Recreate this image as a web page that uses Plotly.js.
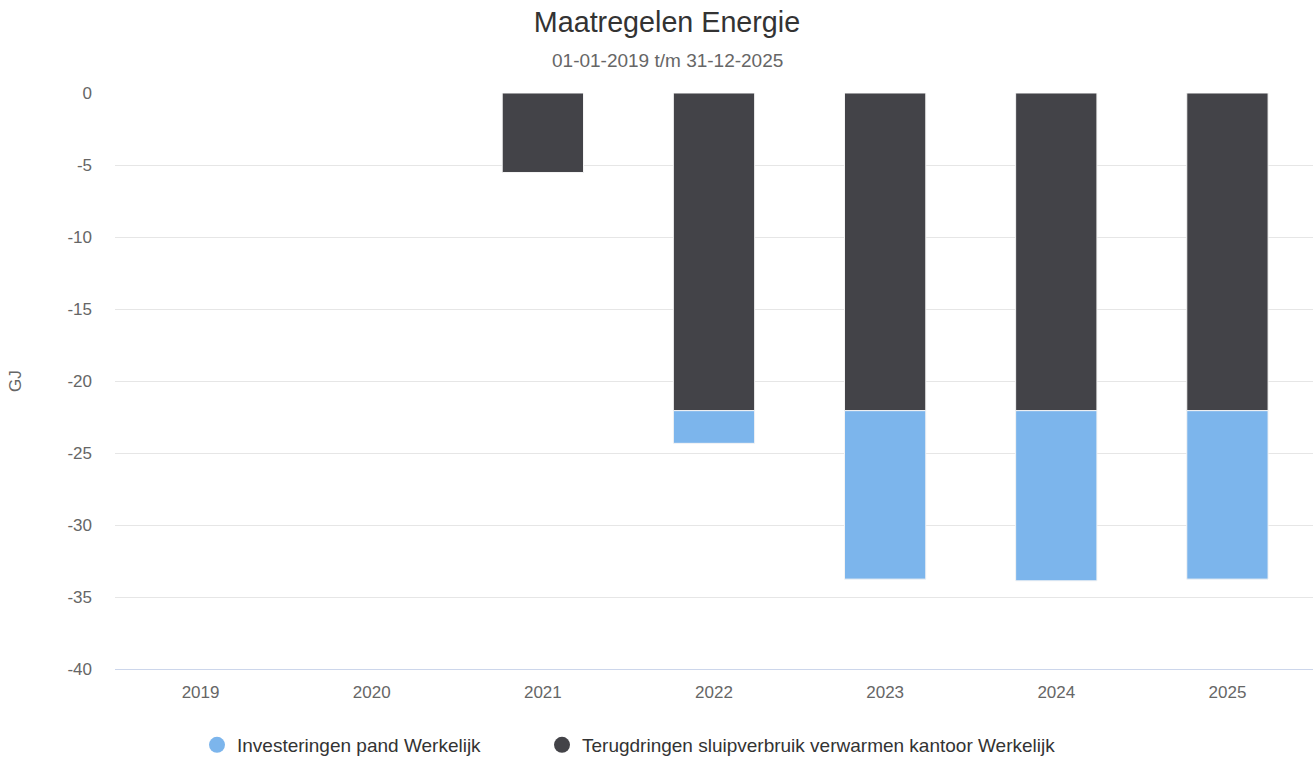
<!DOCTYPE html>
<html>
<head>
<meta charset="utf-8">
<script src="https://cdn.plot.ly/plotly-3.0.1.min.js"></script>
<style>html,body{margin:0;padding:0;background:#fff;}#chart{width:1313px;height:758px;}</style>
</head>
<body>
<div id="chart"></div>
<script>
const years = ['2019', '2020', '2021', '2022', '2023', '2024', '2025'];
const investeringenPand = [null, null, null, -2.27, -11.7, -11.82, -11.7];
const sluipverbruik = [null, null, -5.52, -22.06, -22.06, -22.06, -22.06];
const seriesNames = ['Investeringen pand Werkelijk', 'Terugdringen sluipverbruik verwarmen kantoor Werkelijk'];
const colors = ['#7cb5ec', '#434348'];
const yTicks = [0, -5, -10, -15, -20, -25, -30, -35, -40];
const yTickText = ['0', '-5', '-10', '-15', '-20', '-25', '-30', '-35', '-40'];

const font = 'Liberation Sans, Arial, sans-serif';

const traces = [
  {type: 'bar', x: years, y: sluipverbruik, name: seriesNames[1], showlegend: false,
   marker: {color: colors[1], line: {color: '#f4f4f4', width: 1}}, hoverinfo: 'x+y'},
  {type: 'bar', x: years, y: investeringenPand, name: seriesNames[0], showlegend: false,
   marker: {color: colors[0], line: {color: '#f4f4f4', width: 1}}, hoverinfo: 'x+y'},
  {type: 'scatter', mode: 'markers', x: [null], y: [null], name: seriesNames[0], legend: 'legend',
   marker: {color: colors[0], size: 18, symbol: 'circle'}},
  {type: 'scatter', mode: 'markers', x: [null], y: [null], name: seriesNames[1], legend: 'legend2',
   marker: {color: colors[1], size: 18, symbol: 'circle'}}
];

const legendStyle = {orientation: 'h', xanchor: 'left', yref: 'container', y: 1 - 745/758, yanchor: 'middle',
  font: {family: font, size: 19, color: '#333333'}, bgcolor: 'rgba(0,0,0,0)', borderwidth: 0};

const layout = {
  width: 1313, height: 758,
  margin: {l: 115, r: 0, t: 93, b: 89, autoexpand: false},
  paper_bgcolor: '#ffffff', plot_bgcolor: '#ffffff',
  font: {family: font, color: '#666666', size: 17},
  barmode: 'relative',
  bargap: 0.525,
  title: {text: 'Maatregelen Energie', font: {family: font, size: 28.7, color: '#333333'},
          x: 667/1313, xref: 'container', xanchor: 'center', y: 1 - 22/758, yref: 'container', yanchor: 'middle'},
  annotations: [
    {text: '01-01-2019 t/m 31-12-2025', xref: 'paper', yref: 'paper', x: (667.5-115)/1198, y: 1 + (93-61)/576,
     xanchor: 'center', yanchor: 'middle', showarrow: false, font: {family: font, size: 19, color: '#666666'}},
    {text: 'GJ', xref: 'paper', yref: 'paper', x: (15-115)/1198, y: 0.5, textangle: -90,
     xanchor: 'center', yanchor: 'middle', showarrow: false, font: {family: font, size: 17, color: '#666666'}}
  ],
  xaxis: {type: 'category', range: [-0.5, 6.5], showgrid: false, showline: true, linecolor: '#ccd6eb', linewidth: 1,
          ticks: '', ticklabelstandoff: 8, tickfont: {size: 17, color: '#666666'}, fixedrange: true, automargin: false},
  yaxis: {range: [-40, 0], tickvals: yTicks, ticktext: yTickText, showgrid: true, gridcolor: '#e6e6e6', gridwidth: 1,
          zeroline: false, showline: false, ticks: '', ticklabelstandoff: 22, automargin: false,
          tickfont: {size: 17, color: '#666666'}, fixedrange: true},
  showlegend: true,
  legend: Object.assign({}, legendStyle, {x: (197-115)/1198}),
  legend2: Object.assign({}, legendStyle, {x: (542-115)/1198})
};

Plotly.newPlot('chart', traces, layout, {displayModeBar: false, staticPlot: true});
</script>
</body>
</html>
